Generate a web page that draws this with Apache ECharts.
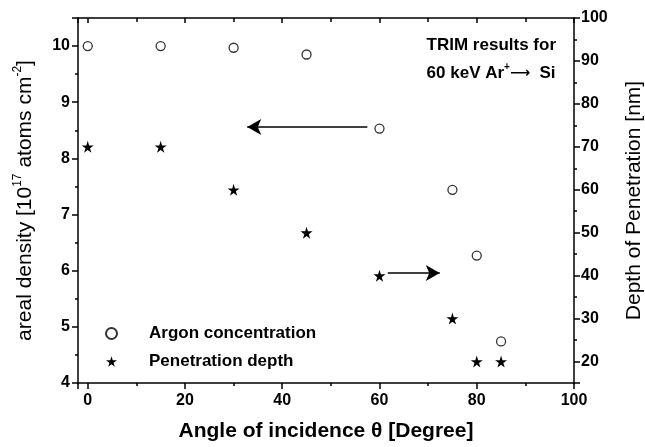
<!DOCTYPE html>
<html>
<head>
<meta charset="utf-8">
<script src="https://cdn.jsdelivr.net/npm/echarts@6/dist/echarts.min.js"></script>
<style>
  html, body { margin: 0; padding: 0; background: #fff; }
  #chart { width: 645px; height: 447px; }
</style>
</head>
<body>
<div id="chart"></div>
<script>
// Data
const angles = [0, 15, 30, 45, 60, 75, 80, 85];
const argonDensity = [10.0, 10.0, 9.97, 9.85, 8.53, 7.44, 6.27, 4.74]; // 10^17 atoms cm^-2
const penetrationDepth = [70, 70, 60, 50, 40, 30, 20, 20]; // nm

// Arrows pointing to the axis each series belongs to
const leftArrow = [[57.5, 8.56], [32.8, 8.56]];
const rightArrow = [[61.7, 40.6], [72.4, 40.6]];

const FONT = "Liberation Sans, Arial, sans-serif";
const STAR = "path://M50,0 L61,35 L98,35 L68,57 L79,91 L50,70 L21,91 L32,57 L2,35 L39,35 Z";

const chart = echarts.init(document.getElementById("chart"));

const tickLabel = { color: "#000", fontFamily: FONT, fontWeight: "bold", fontSize: 16 };
const axisLine = { show: true, onZero: false, lineStyle: { color: "#000", width: 1.5 } };

chart.setOption({
  animation: false,
  backgroundColor: "#fff",
  grid: { left: 78, right: 71, top: 18, bottom: 64, outerBoundsMode: "none" },
  title: {
    text: "TRIM results for\n60 keV Ar{sup|+}{arr|⟶}  Si",
    right: 84,
    top: 26,
    textStyle: {
      color: "#000", fontFamily: FONT, fontWeight: "bold", fontSize: 17, lineHeight: 28, align: "right",
      rich: {
        sup: { fontFamily: FONT, fontWeight: "bold", fontSize: 10, lineHeight: 28, padding: [0, 0, 12, 0] },
        arr: { fontFamily: "DejaVu Sans", fontSize: 14, lineHeight: 28 },
      },
    },
  },
  legend: {
    orient: "vertical",
    left: 100,
    top: 320,
    itemWidth: 11,
    itemHeight: 11,
    itemGap: 11,
    textStyle: { color: "#000", fontFamily: FONT, fontWeight: "bold", fontSize: 17, padding: [0, 0, 0, 27] },
    data: ["Argon concentration", "Penetration depth"],
  },
  xAxis: [
    {
      type: "value",
      position: "bottom",
      min: -2,
      max: 100,
      splitNumber: 5,
      name: "Angle of incidence θ [Degree]",
      nameLocation: "middle",
      nameGap: 38,
      nameTextStyle: { color: "#000", fontFamily: FONT, fontWeight: "bold", fontSize: 21 },
      axisLine: axisLine,
      axisTick: { show: true, length: 6, lineStyle: { color: "#000", width: 1.5 } },
      minorTick: { show: true, splitNumber: 2, length: 3, lineStyle: { color: "#000", width: 1.5 } },
      axisLabel: Object.assign({ margin: 10, formatter: (v) => (v % 20 === 0 ? String(v) : "") }, tickLabel),
      splitLine: { show: false },
    },
    {
      type: "value",
      position: "top",
      min: -2,
      max: 100,
      splitNumber: 5,
      axisLine: axisLine,
      axisTick: { show: true, inside: true, length: 5, lineStyle: { color: "#000", width: 1.5 } },
      minorTick: { show: true, splitNumber: 2, length: 4, lineStyle: { color: "#000", width: 1.5 } },
      axisLabel: { show: false },
      splitLine: { show: false },
    },
  ],
  yAxis: [
    {
      type: "value",
      position: "left",
      min: 4,
      max: 10.5,
      splitNumber: 6,
      name: "areal density [10{sup|17} atoms cm{sup|-2}]",
      nameLocation: "middle",
      nameGap: 40,
      nameTextStyle: {
        color: "#000", fontFamily: FONT, fontSize: 21,
        rich: { sup: { fontFamily: FONT, fontSize: 12, padding: [0, 0, 14, 0] } },
      },
      axisLine: axisLine,
      axisTick: { show: true, length: 6, lineStyle: { color: "#000", width: 1.5 } },
      minorTick: { show: true, splitNumber: 2, length: 3, lineStyle: { color: "#000", width: 1.5 } },
      axisLabel: Object.assign({ margin: 8, formatter: (v) => (Number.isInteger(v) ? String(v) : "") }, tickLabel),
      splitLine: { show: false },
    },
    {
      type: "value",
      position: "right",
      min: 15,
      max: 100,
      splitNumber: 8,
      name: "Depth of Penetration [nm]",
      nameLocation: "middle",
      nameGap: 50,
      nameTextStyle: { color: "#000", fontFamily: FONT, fontSize: 21 },
      axisLine: axisLine,
      axisTick: { show: true, length: 6, lineStyle: { color: "#000", width: 1.5 } },
      minorTick: { show: true, splitNumber: 2, length: 3, lineStyle: { color: "#000", width: 1.5 } },
      axisLabel: Object.assign({ margin: 7, formatter: (v) => (v % 10 === 0 ? String(v) : "") }, tickLabel),
      splitLine: { show: false },
    },
  ],
  series: [
    {
      name: "Argon concentration",
      type: "scatter",
      xAxisIndex: 0,
      yAxisIndex: 0,
      symbol: "circle",
      symbolSize: 9,
      itemStyle: { color: "#fff", borderColor: "#000", borderWidth: 1.3 },
      data: angles.map((a, i) => [a, argonDensity[i]]),
      markLine: {
        silent: true,
        symbol: ["none", "arrow"],
        symbolSize: [12, 14],
        label: { show: false },
        lineStyle: { color: "#000", width: 1.5, type: "solid" },
        data: [[{ coord: leftArrow[0] }, { coord: leftArrow[1] }]],
      },
    },
    {
      name: "Penetration depth",
      type: "scatter",
      xAxisIndex: 0,
      yAxisIndex: 1,
      symbol: STAR,
      symbolSize: 12,
      itemStyle: { color: "#000", opacity: 1 },
      data: angles.map((a, i) => [a, penetrationDepth[i]]),
      markLine: {
        silent: true,
        symbol: ["none", "arrow"],
        symbolSize: [12, 14],
        label: { show: false },
        lineStyle: { color: "#000", width: 1.5, type: "solid" },
        data: [[{ coord: rightArrow[0] }, { coord: rightArrow[1] }]],
      },
    },
  ],
});

window.addEventListener("resize", () => chart.resize());
</script>
</body>
</html>
